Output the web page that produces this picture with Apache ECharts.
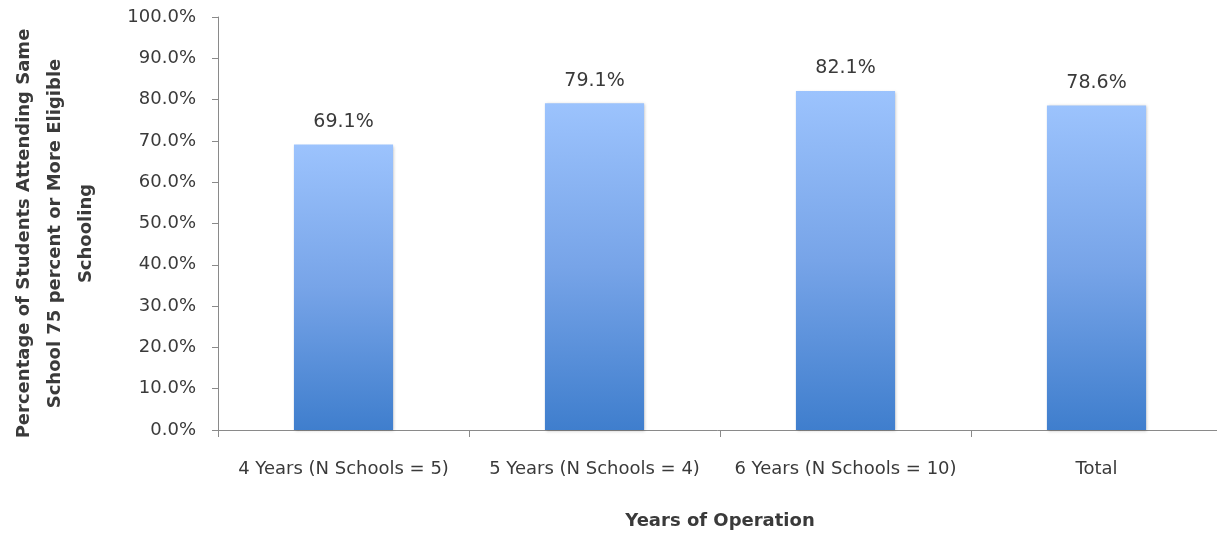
<!DOCTYPE html>
<html>
<head>
<meta charset="utf-8">
<title>Students Attending Same School by Years of Operation</title>
<script src="https://cdn.jsdelivr.net/npm/echarts@6/dist/echarts.min.js"></script>
<style>
  html, body { margin: 0; padding: 0; background: #ffffff; overflow: hidden; }
  #chart { width: 1217px; height: 535px; }
</style>
</head>
<body>
<div id="chart"></div>
<script>
// Categories along the x axis
const categories = [
  '4 Years (N Schools = 5)',
  '5 Years (N Schools = 4)',
  '6 Years (N Schools = 10)',
  'Total'
];
// Percentage of students attending the same school for 75%+ of eligible schooling
const percentValues = [69.1, 79.1, 82.1, 78.6];

const xAxisTitle = 'Years of Operation';
const yAxisTitle = 'Percentage of Students Attending Same\nSchool 75 percent or More Eligible\nSchooling';

const FONT = '"DejaVu Sans", sans-serif';
const TEXT_COLOR = '#3a3a3a';
const AXIS_COLOR = '#8a8a8a';

const chart = echarts.init(document.getElementById('chart'), null, { renderer: 'canvas' });

chart.setOption({
  animation: false,
  backgroundColor: '#ffffff',
  // the plot runs a few pixels past the right edge of the canvas
  grid: {
    left: 218, top: 17, width: 1004, height: 413,
    containLabel: false,
    outerBoundsMode: 'none'
  },
  xAxis: {
    type: 'category',
    data: categories,
    name: xAxisTitle,
    nameLocation: 'middle',
    nameGap: 82,
    nameTextStyle: { fontFamily: FONT, fontSize: 18, fontWeight: 'bold', color: TEXT_COLOR },
    axisLine: { show: true, lineStyle: { color: AXIS_COLOR, width: 1 } },
    axisTick: { show: true, length: 7, lineStyle: { color: AXIS_COLOR } },
    axisLabel: { fontFamily: FONT, fontSize: 18, color: TEXT_COLOR, margin: 30, interval: 0 },
    splitLine: { show: false }
  },
  yAxis: {
    type: 'value',
    min: 0,
    max: 100,
    interval: 10,
    name: yAxisTitle,
    nameLocation: 'middle',
    nameRotate: 90,
    nameGap: 116,
    nameTextStyle: {
      fontFamily: FONT, fontSize: 18, fontWeight: 'bold', color: TEXT_COLOR,
      lineHeight: 31, align: 'center',
      // nudge the title block slightly below the plot's vertical middle
      padding: [0, 20, 0, 0]
    },
    axisLine: { show: true, lineStyle: { color: AXIS_COLOR, width: 1 } },
    axisTick: { show: true, length: 6, lineStyle: { color: AXIS_COLOR } },
    axisLabel: {
      fontFamily: FONT, fontSize: 18, color: TEXT_COLOR, margin: 22,
      formatter: v => v.toFixed(1) + '%'
    },
    splitLine: { show: false }
  },
  series: [{
    type: 'bar',
    data: percentValues,
    barWidth: '39.5%',
    itemStyle: {
      color: new echarts.graphic.LinearGradient(0, 0, 0, 1, [
        { offset: 0, color: '#9cc3fd' },
        { offset: 0.5, color: '#77a4e8' },
        { offset: 1, color: '#3f7ecd' }
      ]),
      shadowBlur: 3,
      shadowColor: 'rgba(0,0,0,0.25)',
      shadowOffsetX: 1,
      shadowOffsetY: 1
    },
    label: {
      show: true,
      position: 'top',
      distance: 13,
      fontFamily: FONT,
      fontSize: 19,
      color: TEXT_COLOR,
      formatter: p => p.value.toFixed(1) + '%'
    }
  }]
});
</script>
</body>
</html>
